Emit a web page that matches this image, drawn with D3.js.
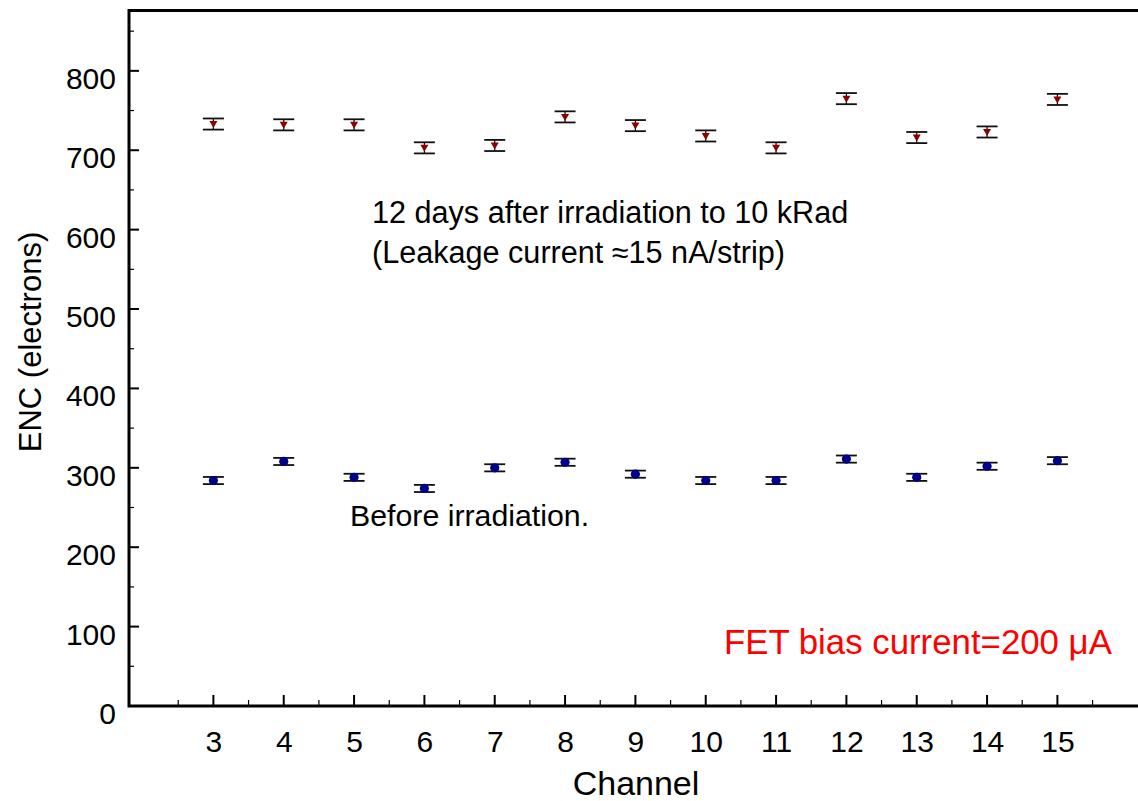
<!DOCTYPE html>
<html>
<head>
<meta charset="utf-8">
<script src="https://cdn.jsdelivr.net/npm/d3@7"></script>
<style>
  body { margin: 0; background: #fff; }
  svg { display: block; font-family: Arial, "Liberation Sans", sans-serif; }
</style>
</head>
<body>
<svg id="chart" width="1138" height="801"></svg>
<script>
// channel numbers and ENC values (electrons)
const channels = [3, 4, 5, 6, 7, 8, 9, 10, 11, 12, 13, 14, 15];
const beforeEnc = [284, 308, 288, 274, 300, 307, 292, 284, 284, 311, 288, 302, 309];
const beforeErr = [4.5, 4.5, 4.5, 4.5, 4.5, 4.5, 4.5, 4.5, 4.5, 4.5, 4.5, 4.5, 4.5];
const afterEnc = [733, 732, 732, 703, 706, 742, 731, 718, 703, 765, 716, 723, 764];
const afterErr = [7, 7, 7, 7, 7, 7, 7, 7, 7, 7, 7, 7, 7];
const yTicks = [0, 100, 200, 300, 400, 500, 600, 700, 800];

const svg = d3.select('#chart');

const x = d3.scaleLinear().domain([1.8, 16.2]).range([129, 1141.8]);
const y = d3.scaleLinear().domain([0, 876]).range([706, 10.5]);

// minor ticks
const xMinor = d3.range(2.5, 16, 1);
const yMinor = d3.range(50, 876, 100);

// y axis
const yAxis = d3.axisLeft(y).tickValues(yTicks).tickSize(0).tickPadding(13);
svg.append('g')
    .attr('transform', 'translate(129,0)')
    .call(yAxis)
    .call(g => g.select('.domain').remove())
    .call(g => g.selectAll('text')
        .attr('font-size', 30)
        .attr('fill', '#000')
        .attr('font-family', 'Arial, "Liberation Sans", sans-serif')
        .attr('dy', '0.58em'));

svg.append('g').selectAll('line.ymaj')
    .data(yTicks)
    .join('line')
    .attr('x1', 129).attr('x2', 139)
    .attr('y1', d => y(d)).attr('y2', d => y(d))
    .attr('stroke', '#000').attr('stroke-width', 2);

svg.append('g').selectAll('line.ymin')
    .data(yMinor)
    .join('line')
    .attr('x1', 129).attr('x2', 134)
    .attr('y1', d => y(d)).attr('y2', d => y(d))
    .attr('stroke', '#000').attr('stroke-width', 1.2);

// x axis
const xAxis = d3.axisBottom(x).tickValues(channels).tickSize(0).tickPadding(25);
svg.append('g')
    .attr('transform', 'translate(0,706)')
    .call(xAxis)
    .call(g => g.select('.domain').remove())
    .call(g => g.selectAll('text')
        .attr('font-size', 30)
        .attr('fill', '#000')
        .attr('font-family', 'Arial, "Liberation Sans", sans-serif'));

svg.append('g').selectAll('line')
    .data(channels)
    .join('line')
    .attr('x1', d => x(d)).attr('x2', d => x(d))
    .attr('y1', 706).attr('y2', 695)
    .attr('stroke', '#000').attr('stroke-width', 2);

svg.append('g').selectAll('line')
    .data(xMinor)
    .join('line')
    .attr('x1', d => x(d)).attr('x2', d => x(d))
    .attr('y1', 706).attr('y2', 700)
    .attr('stroke', '#000').attr('stroke-width', 1.2);

// frame (right side is cut off by the picture edge)
svg.append('path')
    .attr('d', `M1150,${y(876)} H129 V706 H1150`)
    .attr('fill', 'none')
    .attr('stroke', '#000')
    .attr('stroke-width', 3);

// error bars + markers
function drawSeries(vals, errs, cls) {
    const pts = channels.map((c, i) => ({ c, v: vals[i], e: errs[i] }));
    const g = svg.append('g').attr('class', cls);
    g.selectAll('line.v')
        .data(pts).join('line')
        .attr('x1', d => x(d.c)).attr('x2', d => x(d.c))
        .attr('y1', d => y(d.v - d.e)).attr('y2', d => y(d.v + d.e))
        .attr('stroke', '#000').attr('stroke-width', 1.2);
    [-1, 1].forEach(s => {
        g.selectAll('line.c' + s)
            .data(pts).join('line')
            .attr('x1', d => x(d.c) - 10.5).attr('x2', d => x(d.c) + 10.5)
            .attr('y1', d => y(d.v + s * d.e)).attr('y2', d => y(d.v + s * d.e))
            .attr('stroke', '#111').attr('stroke-width', 1.8);
    });
    return { g, pts };
}

const after = drawSeries(afterEnc, afterErr, 'after');
after.g.selectAll('path.m')
    .data(after.pts).join('path')
    .attr('d', 'M-4,-3 L4,-3 L0,4 Z')
    .attr('transform', d => `translate(${x(d.c)},${y(d.v)})`)
    .attr('fill', '#8b0000');

const before = drawSeries(beforeEnc, beforeErr, 'before');
before.g.selectAll('circle')
    .data(before.pts).join('circle')
    .attr('cx', d => x(d.c)).attr('cy', d => y(d.v))
    .attr('r', 4.6)
    .attr('fill', '#000088');

// axis titles
svg.append('text')
    .attr('x', 636).attr('y', 795)
    .attr('text-anchor', 'middle')
    .attr('font-size', 34)
    .text('Channel');

svg.append('text')
    .attr('transform', 'translate(41,342) rotate(-90)')
    .attr('text-anchor', 'middle')
    .attr('font-size', 31)
    .text('ENC (electrons)');

// annotations
svg.append('text').attr('x', 372).attr('y', 223).attr('font-size', 30.6)
    .text('12 days after irradiation to 10 kRad');
svg.append('text').attr('x', 372).attr('y', 263).attr('font-size', 30.6)
    .text('(Leakage current \u224815 nA/strip)');
svg.append('text').attr('x', 350).attr('y', 526).attr('font-size', 30.3)
    .text('Before irradiation.');
svg.append('text').attr('x', 724).attr('y', 654).attr('font-size', 34.8)
    .attr('fill', '#ff0000')
    .text('FET bias current=200 \u03bcA');
</script>
</body>
</html>
